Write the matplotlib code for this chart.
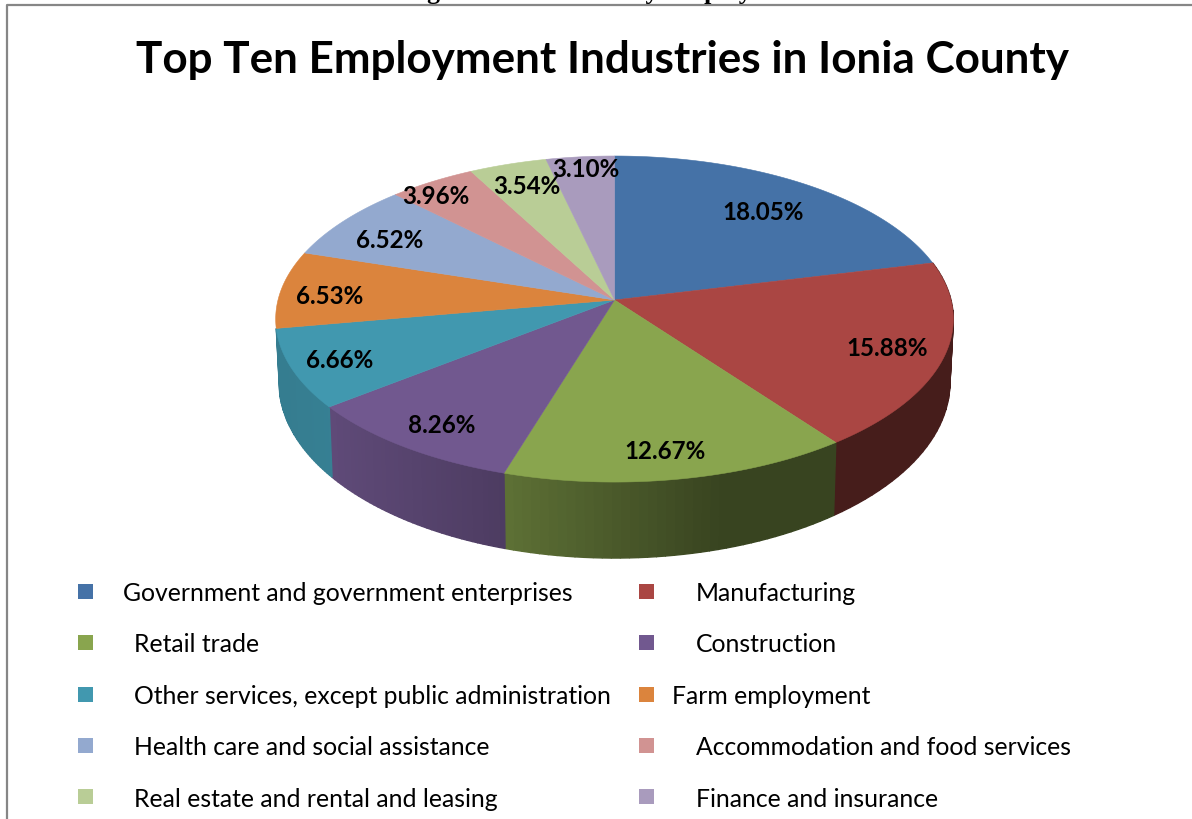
import numpy as np
import matplotlib
matplotlib.use("Agg")
import matplotlib.pyplot as plt
from matplotlib.patches import Rectangle

# Values from the chart
categories = [
    "Government and government enterprises",
    "Manufacturing",
    "Retail trade",
    "Construction",
    "Other services, except public administration",
    "Farm employment",
    "Health care and social assistance",
    "Accommodation and food services",
    "Real estate and rental and leasing",
    "Finance and insurance",
]
shares = [18.05, 15.88, 12.67, 8.26, 6.66, 6.53, 6.52, 3.96, 3.54, 3.10]
colors = ["#4572A7", "#AA4643", "#89A54E", "#71588F", "#4198AF",
          "#DB843D", "#93A9CF", "#D19392", "#B9CD96", "#A99BBD"]

# Label centres, pixels
label_x = [763, 887, 665, 442, 340, 330, 390, 436, 527, 586]
label_y = [212.5, 348.5, 451.5, 425.5, 360.5, 296.5, 240.5, 196.5, 186.5, 169.5]

# Legend layout, pixels
legend_rows = [594, 594, 645, 645, 697, 697, 748, 748, 799.5, 799.5]
legend_box_x = [78, 639] * 5
legend_box_y = [592.5, 592.5, 643.5, 643.5, 695, 695, 746, 746, 797.5, 797.5]
legend_text_x = [123, 696, 134.5, 696, 134.5, 672, 134.5, 696, 134.5, 696]

# Pie geometry (perspective view of a circle), pixels
cx, cy = 614.5, 301
A, B, k = 336.5, 160.8, 0.1167
front_slices = [1, 2, 3, 4]  # the only slices whose side shows


def top_xy(theta):
    u, v = np.sin(theta), np.cos(theta)
    d = 1 + k * v
    return A * u / d, B * v / d


def rim(theta):
    X, Y = top_xy(theta)
    return cx + X, cy - Y


def base(theta):
    X, Y = top_xy(theta)
    return cx + 0.99 * X, cy - (1.077 * Y - 62)


def wall_shade(x):
    return np.interp(x, [280, 330, 505, 720], [0.82, 0.84, 0.68, 0.41])


fig = plt.figure(figsize=(11.92, 8.20), dpi=100)
ax = fig.add_axes([0, 0, 1, 1])
ax.set_xlim(0, 1192)
ax.set_ylim(820, 0)
ax.axis("off")

edges = np.radians(np.concatenate([[0], np.cumsum(shares)]) / sum(shares) * 360)

# side wall, drawn in thin strips so the shading runs across it
for i in front_slices:
    rgb = np.array(matplotlib.colors.to_rgb(colors[i]))
    th = np.linspace(edges[i], edges[i + 1], 40)
    for a, b in zip(th[:-1], th[1:]):
        x1, y1 = rim(a)
        x2, y2 = rim(b)
        x3, y3 = base(b)
        x4, y4 = base(a)
        col = rgb * wall_shade((x1 + x2) / 2)
        ax.fill([x1, x2, x3, x4], [y1, y2, y3, y4], color=col, lw=1.0, zorder=2)

# top face
for i, c in enumerate(colors):
    th = np.linspace(edges[i], edges[i + 1], 120)
    x, y = rim(th)
    ax.fill(np.r_[cx, x], np.r_[cy, y], color=c, lw=0.4, zorder=3)

for i, s in enumerate(shares):
    ax.text(label_x[i], label_y[i], f"{s:.2f}%", ha="center", va="center",
            fontsize=17.4, fontweight="bold", family="Lato", color="black", zorder=5)

# legend
for i, name in enumerate(categories):
    ax.add_patch(Rectangle((legend_box_x[i], legend_box_y[i] - 7.5), 15, 15,
                           facecolor=colors[i], edgecolor="none", zorder=4))
    ax.text(legend_text_x[i], legend_rows[i], name, ha="left", va="center",
            fontsize=17.8, family="Lato", color="black")

ax.text(602.5, 60, "Top Ten Employment Industries in Ionia County", ha="center",
        va="center", fontsize=31.7, fontweight="bold", family="Lato", color="black")

# page caption cut off by the top of the image, and the chart frame
ax.text(606, -1, "Figure 4: Ionia County Employment", ha="center", va="baseline",
        fontsize=18.7, fontweight="bold", family="Liberation Serif", color="black")
ax.plot([7, 7, 1192], [820, 6, 6], color="#868686", lw=1.6, zorder=1)

fig.savefig("out.png", dpi=100)
